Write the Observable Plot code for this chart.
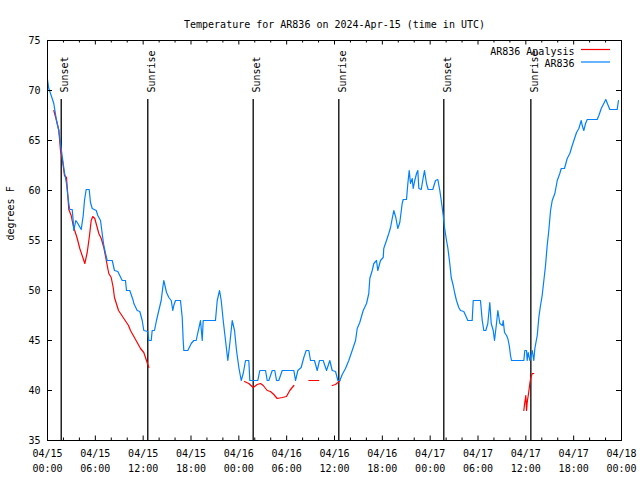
<!DOCTYPE html>
<html><head><meta charset="utf-8">
<script src="https://cdn.jsdelivr.net/npm/d3@7"></script>
<script src="https://cdn.jsdelivr.net/npm/@observablehq/plot@0.6"></script>
<style>body{margin:0;background:#fff}</style>
</head><body><div id="chart"></div>
<script>
const title = "Temperature for AR836 on 2024-Apr-15 (time in UTC)";
const yLabel = "degrees F";
const startUTC = Date.UTC(2024, 3, 15);

// AR836 observations: hours since 04/15 00:00 UTC, temperature °F
const obsHours = [0.00,0.16,0.59,0.79,1.13,1.42,1.63,1.97,2.13,2.38,2.55,2.67,2.80,3.10,3.22,3.30,3.55,3.73,4.23,4.48,4.64,4.85,5.23,5.39,5.61,6.11,6.31,6.65,6.86,7.06,7.28,7.49,8.12,8.40,8.82,9.37,9.78,9.91,10.32,10.75,10.83,11.25,11.58,11.88,12.08,12.58,12.71,13.01,13.13,13.42,13.67,13.96,14.26,14.46,14.59,14.93,15.22,15.52,15.72,15.84,16.06,16.68,16.90,17.02,17.10,17.60,18.03,18.35,18.65,18.78,18.98,19.19,19.41,19.53,21.07,21.29,21.58,21.79,22.04,22.33,22.62,22.87,23.17,23.46,23.71,24.00,24.30,24.55,24.84,25.25,25.38,26.38,26.63,27.35,27.56,27.76,28.19,28.51,28.73,29.01,29.44,30.90,31.11,31.40,31.82,32.15,32.45,32.78,32.99,33.49,33.83,34.12,34.58,35.00,35.41,35.71,36.13,36.42,36.67,36.97,37.38,37.79,38.22,38.64,38.85,39.17,39.60,40.02,40.30,40.43,40.73,40.93,41.27,41.43,41.77,42.11,42.18,42.52,42.81,43.03,43.24,43.44,43.69,43.94,44.19,44.49,44.62,45.03,45.20,45.37,45.53,45.75,45.87,46.07,46.29,46.45,46.58,46.88,47.13,47.29,47.54,47.75,48.33,48.67,48.96,49.21,49.39,49.64,49.80,50.05,50.21,50.46,50.64,50.89,51.09,51.30,51.59,51.81,52.22,52.56,52.72,53.27,53.40,54.31,54.53,54.73,54.98,55.23,55.48,55.66,55.91,56.07,56.32,56.49,56.74,57.07,57.16,57.33,57.58,57.74,57.92,58.08,58.20,59.75,59.87,60.09,60.17,60.30,60.50,60.80,61.00,61.13,61.43,61.63,61.84,62.05,62.26,62.47,62.68,62.88,63.10,63.31,63.64,63.94,64.26,64.44,64.85,65.19,65.52,65.82,66.11,66.36,66.65,66.95,67.07,67.27,67.49,67.70,68.95,69.16,69.46,69.78,70.03,70.28,70.53,71.46,71.62];
const obsTemps = [71.1,70.2,69.2,68.7,67,66,64.7,62.7,61.8,60.7,59.5,58.7,58.1,58.1,57,56,57,56.8,56.1,57.5,59,60.1,60.1,58.8,58.2,58,57.5,57,55.7,54.5,53.7,53,53,52,51.9,51,51,50,50,49,48.7,48,47.9,47,46,45.9,45,45,46,46,47,48,49,50.3,51,49.8,49.3,49,48,48.5,49,49,47.3,45,44,44,44.7,45,45,45.5,46.2,47,45,47,47,49,50,49,47,45,43,44.7,47,46,44,42.3,41,41.7,43,43,41,41,42,42,41,41,42,42,41,41,42,42,41,42,42.3,43.3,44,44,43,43,42,43,43,42,43,42,41.9,41,41,41.6,42.2,43,44,45,46.2,46.8,48,48.7,49.7,51.2,52,52.7,53,52,53,53.3,54.2,55,55.7,56.3,57.2,58,57.3,56.2,56.8,58.7,59.1,59.1,60.7,62,60.7,61.2,60.2,61,61.7,62,60.2,60.1,61.3,62,60.7,60.1,60.1,61,61.1,60,59,57.5,56.3,55,54.3,52.7,51.3,50.5,49.7,49,48.3,48,47.9,47.3,47,47,49,49,47,46,46,46.7,48.8,46.7,46,45,46.7,48,46.7,46.5,47,45.8,45.5,45.2,44.5,43.5,43,43,44,44,43,43.8,43,44,43,44.2,45.5,47.3,48.5,49.5,51,52.5,54.5,56,58,59,59.7,61,61.7,62.2,62.2,63.2,63.7,64.5,65.2,65.8,66.2,67,66.5,66,66.7,67.1,67.1,67.5,68.2,68.7,69.1,68.6,68.1,68.1,69];

// AR836 Analysis: NaN marks a gap
const anaHours = [0.79,1.13,1.42,1.63,1.88,2.13,2.38,2.55,2.67,2.97,3.22,3.73,4.05,4.43,4.68,4.98,5.27,5.48,5.68,5.93,6.44,6.74,7.06,7.31,7.49,7.69,7.99,8.24,8.40,8.91,10.16,10.41,11.67,12.08,12.71,18.0,24.71,25.25,25.80,26.30,26.72,27.06,27.56,27.97,28.39,28.81,29.44,29.98,30.39,30.90,31.8,32.78,34.03,35.0,35.71,36.13,36.42,36.67,48.0,59.75,59.87,60.00,60.09,60.17,60.34,60.50,60.63,60.80,61.00];
const anaTemps = [68,67,66,64,63,61.5,61.3,59.5,58.1,57.5,56.5,55.2,54.2,53.3,52.7,53.8,55.5,57,57.4,57.2,55.7,55.2,54.3,53.3,52.5,51.7,51.3,50.3,49.3,48,46.5,46,44.2,43.8,42.3,NaN,40.9,40.7,40.3,40.6,40.7,40.5,40,39.9,39.6,39.2,39.3,39.4,40,40.5,NaN,41,41,NaN,40.5,40.6,40.8,41,NaN,38,38.8,39.5,38,38.8,39.7,40.7,41.3,41.7,41.7];

const sunHours = [1.72, 12.58, 25.80, 36.54, 49.71, 60.63];
const sunLabels = ["Sunset", "Sunrise", "Sunset", "Sunrise", "Sunset", "Sunrise"];

const yTicks = [35, 40, 45, 50, 55, 60, 65, 70, 75];
const xMajorHours = [0, 6, 12, 18, 24, 30, 36, 42, 48, 54, 60, 66, 72];
const xMinorHours = [2, 4, 8, 10, 14, 16, 20, 22, 26, 28, 32, 34, 38, 40, 44, 46, 50, 52, 56, 58, 62, 64, 68, 70];
const xTickLabels = ["04/15\n00:00","04/15\n06:00","04/15\n12:00","04/15\n18:00","04/16\n00:00","04/16\n06:00","04/16\n12:00","04/16\n18:00","04/17\n00:00","04/17\n06:00","04/17\n12:00","04/17\n18:00","04/18\n00:00"];

const seriesNames = ["AR836 Analysis", "AR836"];
const seriesColors = ["#ff0000", "#0080ff"];

const toDate = h => new Date(startUTC + h * 3600e3);
const obs = obsHours.map((h, i) => ({date: toDate(h), temp: obsTemps[i]}));
const ana = anaHours.map((h, i) => ({date: toDate(h), temp: anaTemps[i]}));
const sun = sunHours.map((h, i) => ({date: toDate(h), label: sunLabels[i]}));
const xMajor = xMajorHours.map((h, i) => ({date: toDate(h), label: xTickLabels[i]}));
const xMinor = xMinorHours.map(toDate);

const W = 640, H = 480, mL = 47, mR = 19, mT = 40, mB = 40;
const pw = W - mL - mR, ph = H - mT - mB;
const font = "DejaVu Sans Mono";
const fs = 10;

const svg = Plot.plot({
  width: W, height: H,
  marginLeft: mL, marginRight: mR, marginTop: mT, marginBottom: mB,
  style: {fontFamily: font, fontSize: fs + "px", background: "#fff", color: "#000"},
  x: {type: "utc", domain: [toDate(0), toDate(72)], axis: null},
  y: {domain: [35, 75], axis: null},
  marks: [
    Plot.ruleX(sun, {x: "date", y1: 69.1, y2: 35, stroke: "#000", strokeWidth: 1.3}),
    Plot.text(sun, {x: "date", text: "label", frameAnchor: "top", dy: 52, rotate: -90, textAnchor: "start", fill: "#000", fontSize: fs, fontFamily: font}),
    Plot.line(ana, {x: "date", y: "temp", stroke: seriesColors[0], strokeWidth: 1.2}),
    Plot.line(obs, {x: "date", y: "temp", stroke: seriesColors[1], strokeWidth: 1.2}),
    Plot.frame({stroke: "#000", strokeWidth: 1}),
    Plot.ruleX(xMajor, {x: "date", insetTop: ph - 4.5, stroke: "#000"}),
    Plot.ruleX(xMajor, {x: "date", insetBottom: ph - 4.5, stroke: "#000"}),
    Plot.ruleX(xMinor, {insetTop: ph - 2.5, stroke: "#000"}),
    Plot.ruleX(xMinor, {insetBottom: ph - 2.5, stroke: "#000"}),
    Plot.ruleY(yTicks, {insetRight: pw - 5, stroke: "#000"}),
    Plot.ruleY(yTicks, {insetLeft: pw - 5, stroke: "#000"}),
    Plot.text(xMajor, {x: "date", text: "label", frameAnchor: "bottom", lineAnchor: "top", dy: 6, lineHeight: 1.5, fill: "#000", fontSize: fs, fontFamily: font}),
    Plot.text(yTicks, {y: d => d, text: d => String(d), frameAnchor: "left", textAnchor: "end", dx: -7, fill: "#000", fontSize: fs, fontFamily: font}),
    Plot.text([yLabel], {frameAnchor: "left", dx: -37, rotate: -90, fill: "#000", fontSize: fs, fontFamily: font}),
    Plot.text([title], {frameAnchor: "top", dy: -20, fill: "#000", fontSize: fs, fontFamily: font}),
    Plot.text([seriesNames[0]], {frameAnchor: "top-right", dx: -47, dy: 7, textAnchor: "end", fill: "#000", fontSize: fs, fontFamily: font}),
    Plot.text([seriesNames[1]], {frameAnchor: "top-right", dx: -47, dy: 19.5, textAnchor: "end", fill: "#000", fontSize: fs, fontFamily: font})
  ]
});

const g = d3.select(svg).append("g");
seriesColors.forEach((c, i) => {
  const y = mT + 9.5 + i * 12.5;
  g.append("line")
    .attr("x1", W - mR - 40).attr("x2", W - mR - 11)
    .attr("y1", y).attr("y2", y)
    .attr("stroke", c).attr("stroke-width", 1.2);
});

document.getElementById("chart").appendChild(svg);
</script>
</body></html>
